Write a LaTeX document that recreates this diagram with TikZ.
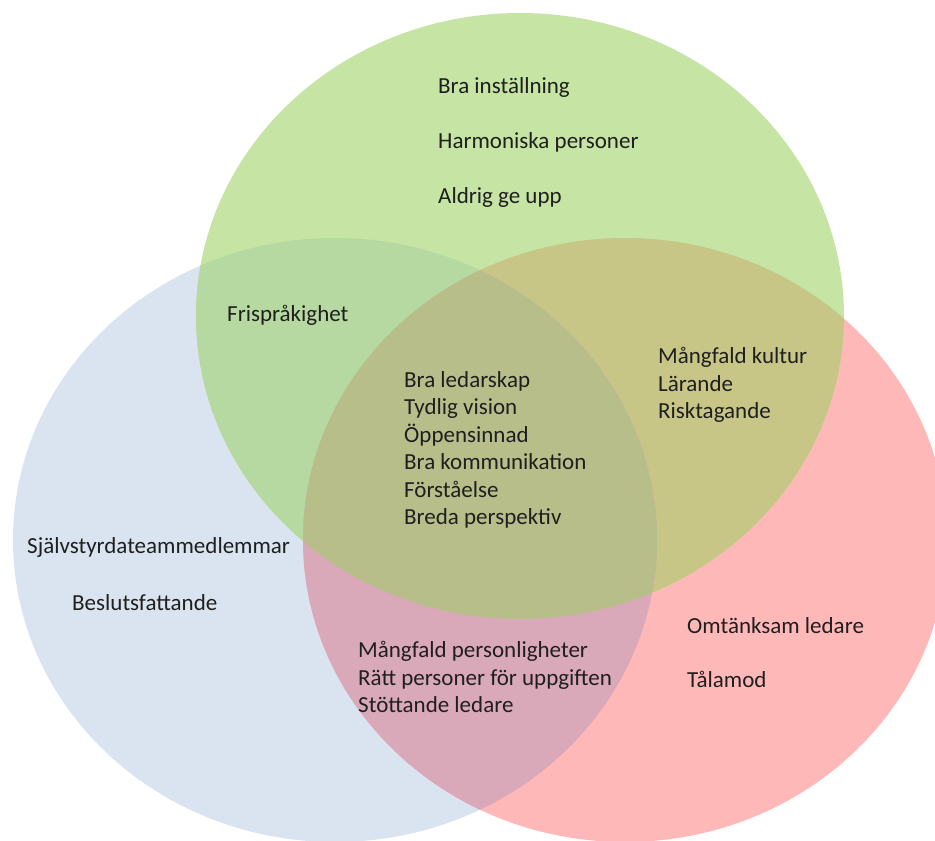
\documentclass[tikz,border=0pt]{standalone}
\usepackage{fontspec}
\setmainfont{Carlito}
\definecolor{vblue}{HTML}{DAE4F0}
\definecolor{vgreen}{HTML}{C6E4A3}
\definecolor{vred}{HTML}{FFB8B8}
\definecolor{vgb}{HTML}{B5D9A0}
\definecolor{vgr}{HTML}{C7C687}
\definecolor{vbr}{HTML}{D9A9BA}
\definecolor{vall}{HTML}{B7BE8A}
\newcommand\bluepath{(335,540) ellipse [x radius=322pt, y radius=302pt]}
\newcommand\greenpath{(520,316) ellipse [x radius=324pt, y radius=303pt]}
\newcommand\redpath{(625,540) ellipse [x radius=322pt, y radius=302pt]}

\begin{document}
\begin{tikzpicture}[x=1pt,y=-1pt,
  lbl/.style={anchor=west,align=left,inner sep=0pt,text=black!88,
    font=\fontsize{23}{27.5}\selectfont},
  widelbl/.style={lbl,font=\fontsize{23}{55}\selectfont}]
\useasboundingbox (0,0) rectangle (935,841);
% the three sets
\fill[vblue] \bluepath;
\fill[vred] \redpath;
\fill[vgreen] \greenpath;
% overlaps
\begin{scope}
\clip \greenpath;
\fill[vgb] \bluepath;
\fill[vgr] \redpath;
\end{scope}
\begin{scope}
\clip \bluepath;
\fill[vbr] \redpath;
\end{scope}
\begin{scope}
\clip \greenpath;
\clip \bluepath;
\fill[vall] \redpath;
\end{scope}
% texts
\node[widelbl] (green) at (438,142) {Bra inställning\\Harmoniska personer\\Aldrig ge upp};
\node[lbl] (greenblue) at (227,315) {Frispråkighet};
\node[lbl] (greenred) at (658,385) {Mångfald kultur\\Lärande\\Risktagande};
\node[lbl] (middle) at (404,450) {Bra ledarskap\\Tydlig vision\\Öppensinnad\\Bra kommunikation\\Förståelse\\Breda perspektiv};
\node[lbl] (blue1) at (27,547) {Självstyrdateammedlemmar};
\node[lbl] (blue2) at (72,603) {Beslutsfattande};
\node[lbl] (bluered) at (358,677) {Mångfald personligheter\\Rätt personer för uppgiften\\Stöttande ledare};
\node[widelbl,font=\fontsize{23}{54}\selectfont] (red) at (687,653) {Omtänksam ledare\\Tålamod};
\end{tikzpicture}
\end{document}
